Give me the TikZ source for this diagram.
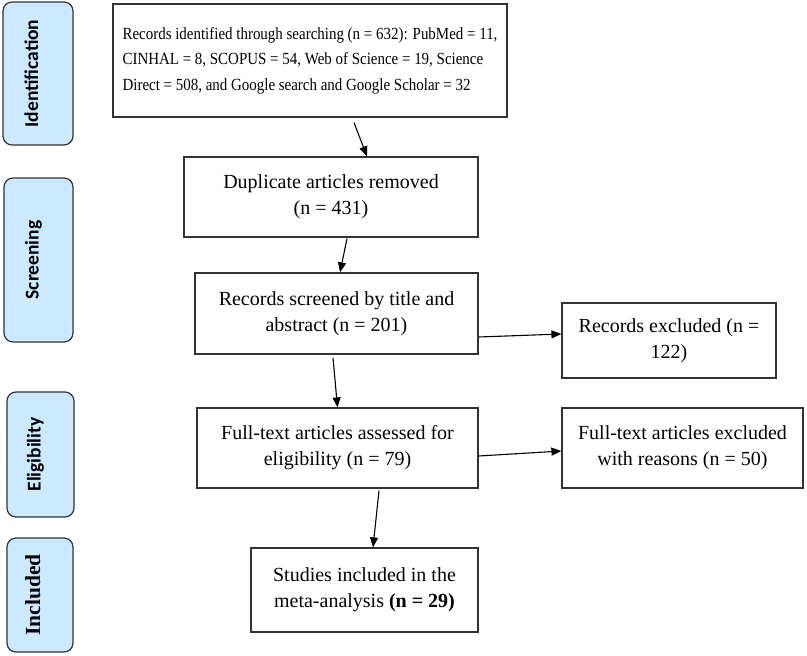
\documentclass[tikz,border=0pt]{standalone}
\usepackage{fontspec}
\setmainfont{Liberation Serif}
\newfontfamily\narrowfont{Liberation Serif}[FakeStretch=0.88]
\newfontfamily\stagefont{Carlito}
\usetikzlibrary{arrows.meta}
\definecolor{stagefill}{HTML}{CCE9FF}
\definecolor{edge}{HTML}{333333}
\begin{document}
\begin{tikzpicture}[x=1pt,y=-1pt,>={Triangle[length=10pt,width=8pt]},
    box/.style={draw=edge,line width=1.2pt,align=center,inner sep=0pt,font=\fontsize{20}{26}\selectfont},
    stage/.style={draw=edge,line width=1.2pt,fill=stagefill,rounded corners=9pt,rotate=90,inner sep=0pt,
        text height=14pt,text depth=14pt,font=\stagefont\bfseries\fontsize{19.5}{20}\selectfont},
    link/.style={->,line width=1.1pt}]
    \useasboundingbox (0,0) rectangle (807,656);
    \node[stage,minimum width=143pt,minimum height=70pt] (ident) at (38,73.5) {Identification};
    \node[stage,minimum width=164pt,minimum height=69pt] (screen) at (38.5,260) {Screening};
    \node[stage,minimum width=125pt,minimum height=67pt] (elig) at (40.5,454.5) {Eligibility};
    \node[stage,minimum width=114pt,minimum height=66pt,font=\bfseries\fontsize{21.5}{22}\selectfont] (incl) at (40,595) {Included};
    \node[box,align=left,minimum width=394pt,minimum height=113pt,font=\narrowfont\fontsize{17}{25.5}\selectfont] (rec) at (310,60.5)
        {Records identified through searching (n = 632): PubMed = 11,\\CINHAL = 8, SCOPUS = 54, Web of Science = 19, Science\\Direct = 508, and Google search and Google Scholar = 32};
    \node[box,minimum width=294pt,minimum height=80pt] (dup) at (331,197) {Duplicate articles removed\\(n = 431)};
    \node[box,minimum width=283pt,minimum height=81pt] (scr) at (336.5,313.5) {Records screened by title and\\abstract (n = 201)};
    \node[box,minimum width=214pt,minimum height=75pt] (excl) at (669,340.5) {Records excluded (n =\\122)};
    \node[box,minimum width=281pt,minimum height=80pt] (full) at (337.5,448) {Full-text articles assessed for\\eligibility (n = 79)};
    \node[box,minimum width=241pt,minimum height=80pt] (fexcl) at (682.5,448) {Full-text articles excluded\\with reasons (n = 50)};
    \node[box,minimum width=227pt,minimum height=84pt] (stud) at (364.5,590) {Studies included in the\\meta-analysis \textbf{(n = 29)}};
    \draw[link] ([xshift=44pt,yshift=-5pt]rec.south) -- ([xshift=36pt]dup.north);
    \draw[link] ([xshift=16pt,yshift=-1pt]dup.south) -- ([xshift=3.5pt]scr.north);
    \draw[link] ([xshift=-3.5pt,yshift=-3pt]scr.south) -- (full.north);
    \draw[link] ([xshift=41.5pt,yshift=-2pt]full.south) -- ([xshift=8.5pt]stud.north);
    \draw[link] ([yshift=-23.5pt]scr.east) -- ([yshift=6.5pt]excl.west);
    \draw[link] ([yshift=-8pt]full.east) -- ([yshift=-3pt]fexcl.west);
\end{tikzpicture}
\end{document}
